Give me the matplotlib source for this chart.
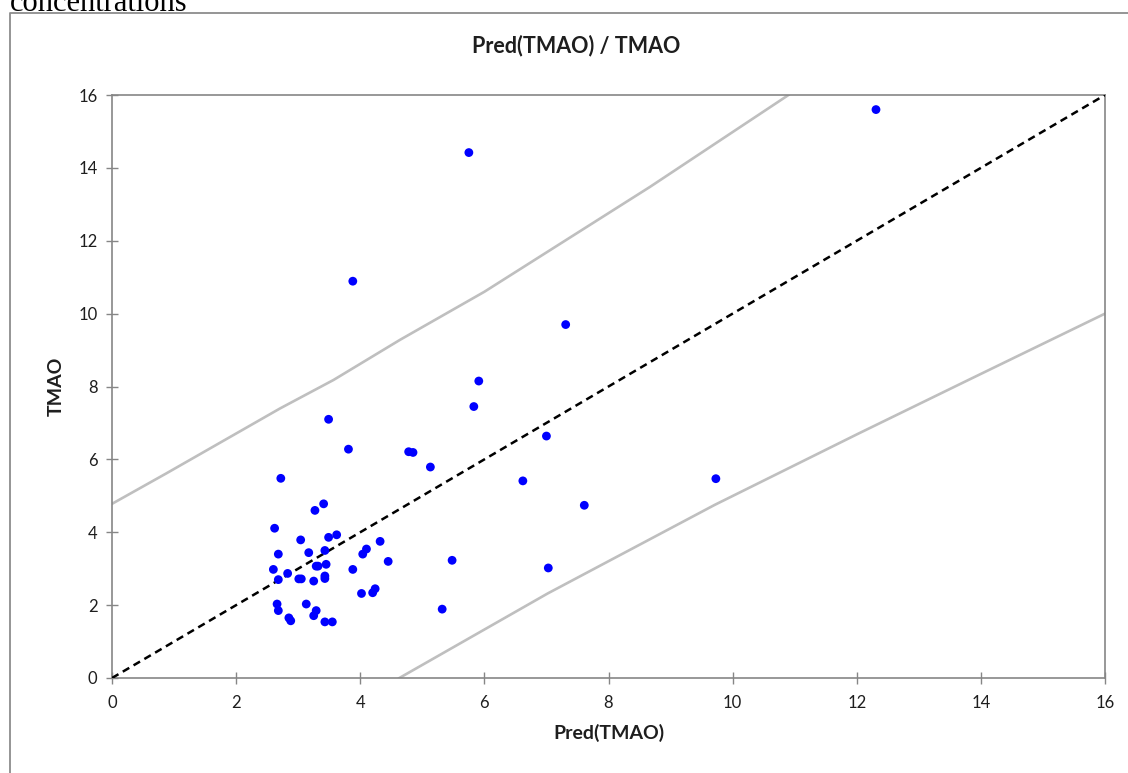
import matplotlib
matplotlib.use("Agg")
import matplotlib.pyplot as plt
from matplotlib.lines import Line2D

pred_tmao = [3.49, 3.81, 4.78, 4.85, 5.13, 2.72, 3.41, 3.27, 2.62, 3.49,
             3.62, 3.04, 4.32, 3.17, 3.43, 2.68, 4.04, 4.10, 4.45, 3.29,
             3.32, 3.45, 2.60, 3.88, 2.83, 3.01, 3.05, 2.68, 3.25, 3.43,
             3.43, 4.02, 4.20, 4.24, 2.66, 2.68, 3.13, 3.29, 3.25, 2.85,
             2.88, 3.43, 3.55, 5.32, 5.48, 7.31, 5.91, 5.83, 7.00, 6.62,
             7.61, 9.73, 7.03, 5.75, 3.88, 12.31]
tmao = [7.10, 6.28, 6.21, 6.19, 5.79, 5.48, 4.78, 4.60, 4.11, 3.86,
        3.93, 3.79, 3.75, 3.44, 3.50, 3.40, 3.40, 3.54, 3.20, 3.07,
        3.07, 3.12, 2.98, 2.98, 2.87, 2.72, 2.72, 2.70, 2.66, 2.80,
        2.73, 2.32, 2.34, 2.45, 2.03, 1.85, 2.03, 1.85, 1.71, 1.65,
        1.57, 1.54, 1.54, 1.89, 3.23, 9.70, 8.15, 7.45, 6.64, 5.41,
        4.74, 5.47, 3.02, 14.42, 10.89, 15.60]

# identity line
ident_x = [0, 16]
ident_y = [0, 16]

# upper / lower prediction bands (gray curves)
upper_x = [0.0, 0.88, 2.71, 3.57, 4.64, 6.0, 8.67, 10.9]
upper_y = [4.78, 5.62, 7.40, 8.18, 9.28, 10.6, 13.48, 16.0]
lower_x = [4.63, 7.02, 9.71, 12.03, 13.80, 16.0]
lower_y = [0.0, 2.32, 4.75, 6.71, 8.18, 10.0]

ticks = [0, 2, 4, 6, 8, 10, 12, 14, 16]

W, H = 1128, 773
fig = plt.figure(figsize=(W / 100, H / 100), dpi=100)
fig.patch.set_facecolor("white")

font = "Lato"
axis_col = "#868686"
text_col = "#1e1e1e"

def fx(px):
    return px / W

def fy(py):
    return 1 - py / H

ax = fig.add_axes([fx(112), fy(678), fx(1105) - fx(112), fy(95) - fy(678)])

ax.plot(upper_x, upper_y, color="#BFBFBF", lw=1.9, zorder=2)
ax.plot(lower_x, lower_y, color="#BFBFBF", lw=1.9, zorder=2)
ax.plot(ident_x, ident_y, color="black", lw=1.8, ls=(0, (3, 2)), zorder=3)
ax.scatter(pred_tmao, tmao, s=40, color="#0000FF", edgecolors="none", zorder=4)

ax.set_xlim(0, 16)
ax.set_ylim(0, 16)
ax.set_xticks(ticks)
ax.set_yticks(ticks)
ax.set_xticklabels([str(t) for t in ticks], fontfamily=font, fontsize=12)
ax.set_yticklabels([str(t) for t in ticks], fontfamily=font, fontsize=12)
ax.tick_params(direction="inout", length=9, width=1, color=axis_col,
               labelcolor=text_col)
ax.tick_params(axis="x", pad=8)
ax.tick_params(axis="y", pad=6)
for sp in ax.spines.values():
    sp.set_color(axis_col)
    sp.set_linewidth(1.2)

ax.set_xlabel("Pred(TMAO)", fontfamily=font, fontweight="bold", fontsize=14,
              color=text_col, labelpad=9)
ax.set_ylabel("TMAO", fontfamily=font, fontweight="bold", fontsize=14,
              color=text_col, labelpad=10)

fig.text(fx(576), fy(46), "Pred(TMAO) / TMAO", fontfamily=font,
         fontweight="bold", fontsize=15.5, color=text_col,
         ha="center", va="center")

# chart frame (only top and left edges visible)
fig.add_artist(Line2D([fx(10), fx(10), fx(1128)], [0, fy(13), fy(13)],
                      transform=fig.transFigure, color="#8C8C8C", lw=1.3))

# caption text cut off at the top of the page, as in the source
fig.text(fx(10), fy(11), "concentrations", fontfamily="Liberation Serif",
         fontsize=22, color="black", ha="left", va="baseline")

fig.savefig("out.png", dpi=100)
